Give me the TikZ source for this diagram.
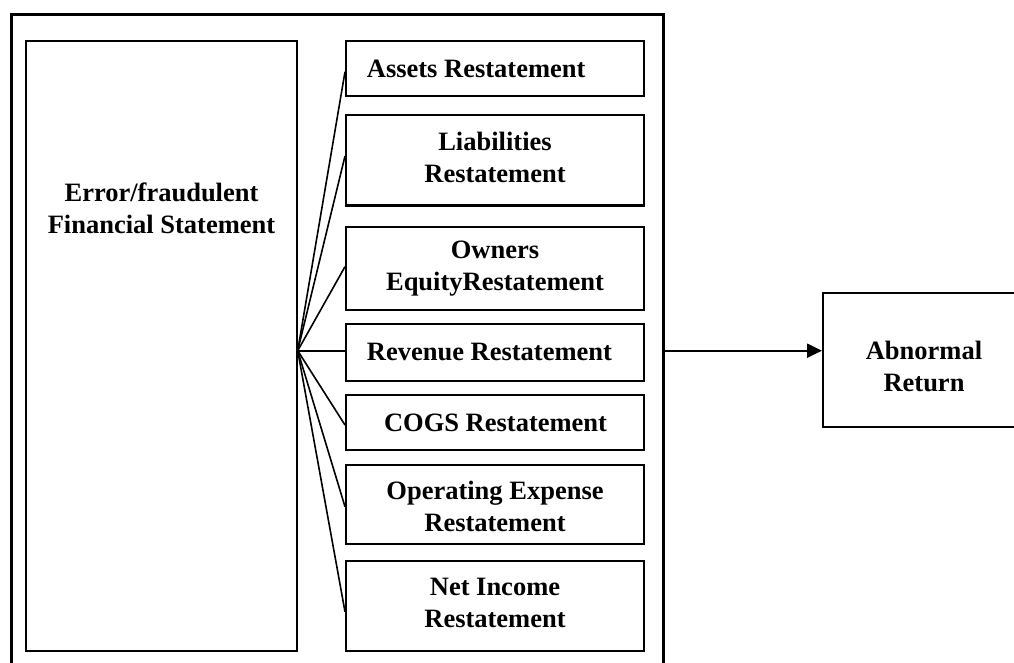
\documentclass[tikz,border=0pt]{standalone}
\usepackage{fontspec}
\setmainfont{Liberation Serif}
\usetikzlibrary{arrows.meta,fit}
\begin{document}
\begin{tikzpicture}[x=1pt,y=-1pt,
  frame/.style={draw, line width=3pt, inner sep=0pt},
  box/.style={draw, line width=2pt, inner sep=0pt},
  lbl/.style={font=\fontsize{26.5}{32}\selectfont\bfseries, align=center, inner sep=0pt},
  fan/.style={line width=1.6pt},
  flow/.style={line width=2.2pt, -{Triangle[length=15pt,width=14pt]}}]
\useasboundingbox (0,0) rectangle (1014,663);

% outer frame (open at the bottom edge of the page)
\node[frame, fit={(11.7,14.5) (663.5,700)}] (frame) {};

% source box
\node[box, fit={(26.3,41.3) (296.7,650.7)}] (src) {};
\node[lbl] (srct) at (161.5,208) {Error/fraudulent\\Financial Statement};

% restatement boxes
\node[box, fit={(346,41.5) (644,96)}]    (a1) {};
\node[box, fit={(346,115) (644,205.5)}]  (a2) {};
\node[box, fit={(346,226.7) (644,310)}]  (a3) {};
\node[box, fit={(346,324) (644,380.5)}]  (a4) {};
\node[box, fit={(346,395) (644,450)}]    (a5) {};
\node[box, fit={(346,465) (644,544)}]    (a6) {};
\node[box, fit={(346,561) (644,650.7)}]  (a7) {};

\node[lbl, anchor=west] (a1t) at (366.7,68.5) {Assets Restatement};
\node[lbl] (a2t) at (495,157) {Liabilities\\Restatement};
\node[lbl] (a3t) at (495,269) {Owners\\EquityRestatement};
\node[lbl, anchor=west] (a4t) at (366.7,352) {Revenue Restatement};
\node[lbl] (a5t) at (495.5,422.5) {COGS Restatement};
\node[lbl] (a6t) at (495,506) {Operating Expense\\Restatement};
\node[lbl] (a7t) at (495,603) {Net Income\\Restatement};

% outcome box
\node[box, fit={(823,292.7) (1025,426.7)}] (ar) {};
\node[lbl] (art) at (924,366) {Abnormal\\Return};

% fan of connectors
\coordinate (hub) at ([yshift=-4.7pt]src.east);
\draw[fan] (hub) -- ([yshift=-3pt]a1.west);
\draw[fan] (hub) -- ([yshift=4.2pt]a2.west);
\draw[fan] (hub) -- ([yshift=1.7pt]a3.west);
\draw[fan] (hub) -- (hub -| a4.west);
\draw[fan] (hub) -- ([yshift=-2.5pt]a5.west);
\draw[fan] (hub) -- ([yshift=-2.2pt]a6.west);
\draw[fan] (hub) -- ([yshift=-5.9pt]a7.west);

% effect arrow
\draw[flow] (frame.east |- hub) -- (ar.west |- hub);
\end{tikzpicture}
\end{document}
